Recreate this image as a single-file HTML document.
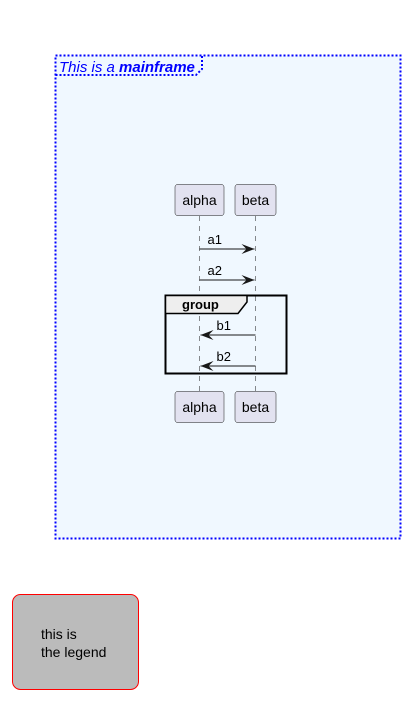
<!DOCTYPE html>
<html><head><meta charset="utf-8"><style>
body{margin:0;background:#fff;}
svg{display:block;font-family:"Liberation Sans",sans-serif;}
</style></head><body>
<svg id="d" width="405" height="709" viewBox="0 0 405 709">
<rect x="55.5" y="55.5" width="345" height="483" fill="#F0F8FF" stroke="#0000FF" stroke-width="2" stroke-dasharray="2,2"/>
<path d="M55.5,75 H196 L202,69 V55.5" fill="none" stroke="#0000FF" stroke-width="2" stroke-dasharray="2,2"/>
<text x="59" y="72" font-size="15" fill="#0000FF" font-style="italic">This is a <tspan font-weight="bold">mainframe</tspan></text>
<g id="seq"></g>
<rect x="12.5" y="594.5" width="126" height="95" rx="8" fill="#BBBBBB" stroke="#FF0000"/>
<text x="41" y="639" font-size="14" fill="#000">this is</text>
<text x="41" y="657" font-size="14" fill="#000">the legend</text>
</svg>
<script>
const participants=["alpha","beta"];
const partX=[199.5,255.5];
const partW=[49,41];
const messages=["a1","a2","b1","b2"];
const msgFrom=[0,0,1,1];
const msgTo=[1,1,0,0];
const msgY=[249,280,335,366];
const NS="http://www.w3.org/2000/svg";
const g=document.getElementById('seq');
function mk(t,a,p){const e=document.createElementNS(NS,t);for(const k in a)e.setAttribute(k,a[k]);(p||g).appendChild(e);return e;}
participants.forEach((p,i)=>{
  const x=partX[i];
  const l=mk('line',{x1:x,y1:216,x2:x,y2:391,stroke:'#181818','stroke-width':0.5,'stroke-dasharray':'5,5'});
  
  
  [184,391].forEach((y,j)=>{
    const r=mk('rect',{x:x-partW[i]/2,y:y+0.5,width:partW[i],height:31,rx:2.5,fill:'#E2E2F0',stroke:'#181818','stroke-width':0.5});
    
    
    const t=mk('text',{x:x,y:y+21,'font-size':14,'text-anchor':'middle',fill:'#000'});
    t.textContent=p;
    
    
  });
});
const gr=mk('rect',{x:165.5,y:295.5,width:121,height:78,fill:'none',stroke:'#000','stroke-width':2});


const gt=mk('path',{d:'M165.5,295.5 H247 V302 L238,313.5 H165.5 Z',fill:'#EEEEEE',stroke:'#000','stroke-width':1.5});


const gl=mk('text',{x:182,y:309,'font-size':13,'font-weight':'bold',fill:'#000'});
gl.textContent='group';


messages.forEach((m,i)=>{
  const x1=partX[msgFrom[i]],x2=partX[msgTo[i]],y=msgY[i],d=x2>x1?1:-1;
  const l=mk('line',{x1:x1,y1:y,x2:x2-d,y2:y,stroke:'#181818','stroke-width':1});
  
  
  const h=mk('path',{d:`M${x2-d*14},${y-5} L${x2-d},${y} L${x2-d*14},${y+5} L${x2-d*9},${y} Z`,fill:'#181818'});
  
  
  const t=mk('text',{x:Math.min(x1,x2)+(d>0?8:17),y:y-5,'font-size':13,fill:'#000'});
  t.textContent=m;
  
  
});
</script>
</body></html>
